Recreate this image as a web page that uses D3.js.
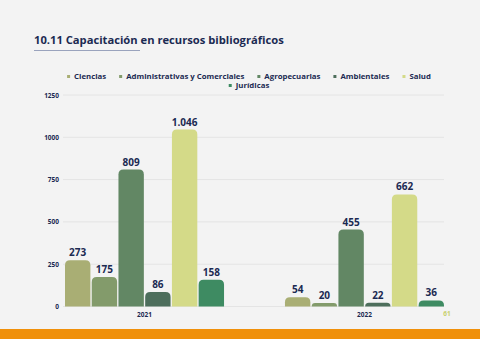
<!DOCTYPE html>
<html><head><meta charset="utf-8">
<script src="https://cdn.jsdelivr.net/npm/d3@7"></script>
<style>
html,body{margin:0;padding:0;background:#f3f3f3;}
svg{display:block;font-family:"Open Sans","Noto Sans",sans-serif;}
</style></head>
<body>
<script>
const years = ["2021", "2022"];
const seriesNames = ["Ciencias", "Administrativas y Comerciales", "Agropecuarias", "Ambientales", "Salud", "Jurídicas"];
const ciencias = [273, 54];
const administrativas = [175, 20];
const agropecuarias = [809, 455];
const ambientales = [86, 22];
const salud = [1046, 662];
const juridicas = [158, 36];
const yTicks = [0, 250, 500, 750, 1000, 1250];
const colors = ["#a9ae74", "#839b6b", "#628764", "#4d6e5c", "#d4da88", "#3e8b62"];

const seriesValues = [ciencias, administrativas, agropecuarias, ambientales, salud, juridicas];
const W = 480, H = 339;
const svg = d3.select("body").append("svg").attr("width", W).attr("height", H);
svg.append("rect").attr("width", W).attr("height", H).attr("fill", "#f3f3f3");

// title
svg.append("text").attr("x", 34).attr("y", 44).attr("font-size", 11.2).attr("font-weight", 700)
  .attr("fill", "#1b2a52").text("10.11 Capacitación en recursos bibliográficos");
svg.append("line").attr("x1", 34).attr("x2", 140).attr("y1", 50.5).attr("y2", 50.5)
  .attr("stroke", "#9aa3bd").attr("stroke-width", 1);

const y = d3.scaleLinear().domain([0, 1250]).range([306.5, 95]);
const x0 = d3.scaleBand().domain(years).range([65, 444]).paddingInner(0.277);
const x1 = d3.scaleBand().domain(seriesNames).range([0, x0.bandwidth()]).paddingInner(0.05);

// grid
svg.append("g").selectAll("line").data(yTicks).join("line")
  .attr("x1", 63).attr("x2", 444).attr("y1", d => y(d)).attr("y2", d => y(d))
  .attr("stroke", "#e4e4e4").attr("stroke-width", 1);

// y axis
const yAxis = svg.append("g").attr("transform", "translate(63,0)")
  .call(d3.axisLeft(y).tickValues(yTicks).tickSize(0).tickPadding(4).tickFormat(d3.format("d")));
yAxis.select(".domain").remove();
yAxis.selectAll("text").attr("font-size", 6.5).attr("font-weight", 700).attr("fill", "#1b2a52")
  .attr("font-family", "'Open Sans','Noto Sans',sans-serif");

// x axis
const xAxis = svg.append("g").attr("transform", "translate(0,306.5)")
  .call(d3.axisBottom(x0).tickSize(0).tickPadding(6));
xAxis.select(".domain").remove();
xAxis.selectAll("text").attr("font-size", 6.5).attr("font-weight", 700).attr("fill", "#1b2a52")
  .attr("font-family", "'Open Sans','Noto Sans',sans-serif");

function topRounded(xx, yy, w, h, r) {
  r = Math.min(r, h, w / 2);
  return `M${xx},${yy + h}V${yy + r}Q${xx},${yy} ${xx + r},${yy}H${xx + w - r}Q${xx + w},${yy} ${xx + w},${yy + r}V${yy + h}Z`;
}

const fmt = v => v >= 1000 ? d3.format(",")(v).replace(",", ".") : String(v);

seriesNames.forEach((name, si) => {
  const g = svg.append("g");
  g.selectAll("path").data(years.map((yr, i) => ({ yr, v: seriesValues[si][i] }))).join("path")
    .attr("d", d => topRounded(x0(d.yr) + x1(name), y(d.v), x1.bandwidth(), y(0) - y(d.v), 5))
    .attr("fill", colors[si]);
  g.selectAll("text").data(years.map((yr, i) => ({ yr, v: seriesValues[si][i] }))).join("text")
    .attr("x", d => x0(d.yr) + x1(name) + x1.bandwidth() / 2)
    .attr("y", d => y(d.v) - 4)
    .attr("text-anchor", "middle").attr("font-size", 10).attr("font-weight", 700)
    .attr("fill", "#1b2a52").text(d => fmt(d.v));
});

// legend
const legendRow1 = seriesNames.slice(0, 5);
const legendRow2 = seriesNames.slice(5);
function drawLegendRow(names, offset, cy) {
  const g = svg.append("g");
  let xx = 0;
  names.forEach((n, i) => {
    const it = g.append("g");
    it.append("rect").attr("x", xx).attr("y", cy - 1.5).attr("width", 3).attr("height", 3).attr("fill", colors[offset + i]);
    const t = it.append("text").attr("x", xx + 7).attr("y", cy + 2.7).attr("font-size", 7.8).attr("font-weight", 700)
      .attr("fill", "#1b2a52").text(n);
    const w = t.node().getComputedTextLength();
    xx += 7 + w + 13;
  });
  const total = xx - 13;
  g.attr("transform", `translate(${249 - total / 2},0)`);
}
drawLegendRow(legendRow1, 0, 76.5);
drawLegendRow(legendRow2, 5, 85.5);

// footer
svg.append("text").attr("x", 447).attr("y", 316).attr("text-anchor", "middle").attr("font-size", 6.5)
  .attr("font-weight", 700).attr("fill", "#c8d06e").text("61");
svg.append("rect").attr("x", 0).attr("y", 329).attr("width", W).attr("height", 10).attr("fill", "#f0900a");
</script>
</body></html>
